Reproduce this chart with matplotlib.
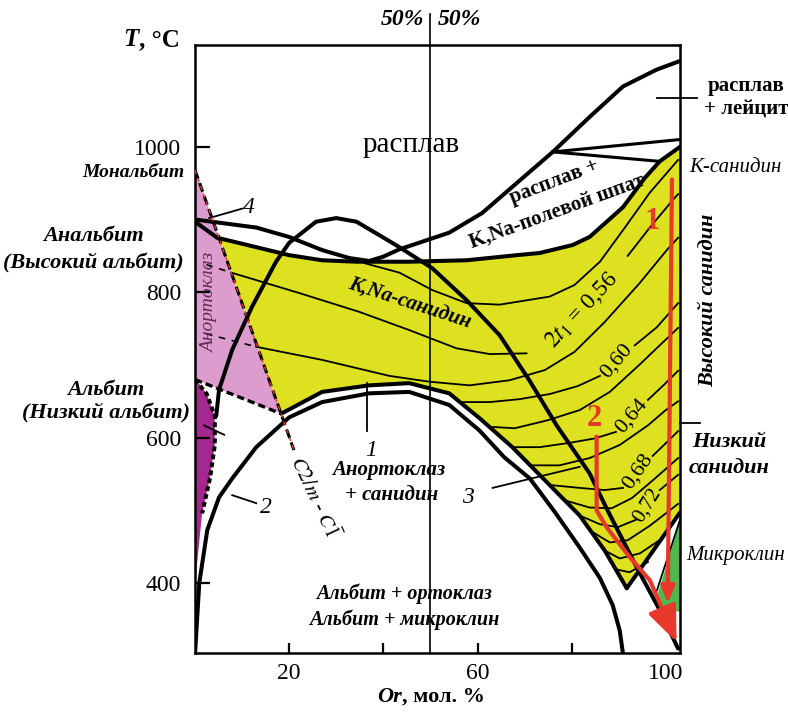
import matplotlib.pyplot as plt
import numpy as np

plt.rcParams['font.family'] = ['Liberation Serif', 'DejaVu Serif']
plt.rcParams['mathtext.fontset'] = 'stix'

# ---- data: (Or, mol.%  ,  T, degC) ----
liquidus = [(0, 900), (13, 889), (20, 876), (27, 858), (32.8, 847), (37, 843), (40, 849), (43.4, 859),
            (54, 882), (61, 909), (68.3, 950), (76, 993), (83.8, 1041), (90.9, 1083),
            (98, 1106), (103, 1118)]
solidus = [(0, 897), (4.7, 875), (13, 862), (20, 851), (27, 844), (34.3, 842), (45.5, 842),
           (57.7, 844), (68.3, 851), (73.2, 854), (80.2, 865), (83.8, 876), (90.9, 917),
           (95.5, 957), (98.7, 980), (103, 1000)]
leucite_upper = [(76, 993), (103, 1010)]
leucite_lower = [(76, 993), (98.7, 980)]

curve3 = [(4.5, 630), (5.1, 666), (7.9, 721), (12.1, 780), (17.2, 842), (20, 868), (25.7, 897),
          (30, 902), (34.3, 897), (39.8, 876), (43.4, 862), (50.4, 833), (57.7, 789),
          (64.7, 741), (71, 679), (76.8, 617), (83.8, 551), (87.4, 503), (93.8, 422),
          (98.7, 363), (102.6, 310)]
albite_dash = [(0, 680), (2.5, 660), (4.2, 630), (4.2, 590), (3.2, 545), (1.5, 496)]
curve1 = [(18.3, 633), (27, 663), (37, 672), (45.5, 675), (54, 661), (60.4, 627), (67.4, 587),
          (75.3, 535), (81.7, 493), (87, 445), (91.7, 393)]
curve2 = [(0, 303), (0.9, 400), (2.6, 473), (5.1, 518), (7.9, 544), (13, 587), (20, 628),
          (27, 649), (37, 661), (45.5, 663), (54, 645), (60.4, 610), (65.7, 573), (71.1, 544),
          (76.4, 498), (81.7, 449), (86, 407), (88.7, 370), (90.2, 335), (90.9, 303)]
c2m_line = [(0, 968), (21, 583)]
anorth_dash = [(0, 680), (18.3, 633)]
v_right = [(91.7, 393), (103, 497)]
micro_line = [(103, 487), (98.1, 390)]
small_tick = [(1.9, 617), (6.2, 604)]

pink_zone = [(0, 968), (0, 680), (18.3, 633)]
purple_zone = [(0, 682), (2.5, 660), (4.2, 630), (4.2, 590), (3.2, 545), (1.5, 496), (0.4, 425), (0, 380)]
green_zone = [(103, 485), (98.3, 386), (99.8, 361), (103, 361)]

# 2t1 isolines; labelled ones are split into the part before and after the label
iso_top = [(36.0, 840), (43.4, 827), (50.4, 803), (57.7, 785), (64.7, 783), (75.3, 794),
           (80.6, 810), (86.0, 842), (91.3, 889), (96.6, 937), (102.6, 982)]
iso_056 = ([(7.7, 827), (22.1, 799), (34.9, 773), (45.5, 748), (55.5, 723), (62.6, 715), (70.4, 716)],
           [(91.9, 850), (96.6, 889), (101.5, 927), (102.6, 935)])
iso_058 = [(13.0, 725), (27.0, 707), (41.3, 685), (49.8, 677), (58.3, 672), (66.8, 679), (74.3, 693),
           (80.6, 718), (87.0, 759), (94.5, 813), (100.2, 858), (102.6, 875)]
iso_060 = ([(56.6, 649), (62.6, 649), (68.9, 653), (75.3, 660), (81.3, 671), (86.0, 685)],
           [(93.4, 727), (98.1, 752), (102.6, 785)])
iso_062 = [(62.6, 615), (67.9, 613), (74.9, 624), (81.7, 638), (88.1, 663), (94.5, 701),
           (98.7, 727), (102.6, 751)]
iso_064 = ([(67.4, 587), (73.2, 587), (79.6, 593), (84.9, 599), (89.4, 608)],
           [(96.2, 652), (99.8, 674), (102.6, 692)])
iso_066 = [(71.1, 562), (77.4, 562), (83.8, 572), (90.2, 590), (96.2, 617), (99.8, 637), (102.6, 650)]
iso_068 = ([(75.3, 535), (81.7, 531), (87.0, 528), (90.9, 531)],
           [(97.2, 575), (100.4, 595), (102.6, 609)])
iso_070 = [(78.5, 514), (83.8, 504), (88.5, 503), (92.8, 517), (97.7, 544), (102.6, 572)]
iso_072 = ([(81.7, 493), (86.0, 481), (89.8, 477), (93.6, 487)],
           [(98.7, 528), (102.6, 549)])
iso_074 = [(84.5, 470), (88.1, 456), (91.9, 459), (96.6, 479), (102.6, 509)]
iso_076 = [(87.0, 445), (90.2, 434), (94.5, 441), (99.1, 461)]
iso_078 = [(89.4, 419), (92.3, 415), (96.2, 429)]
# metastable continuations into the anorthoclase field
iso_056_dash = [(2.4, 838), (7.7, 827)]
iso_058_dash = [(2.3, 743), (13.0, 725)]

arrow1 = [(101.3, 955), (100.4, 372)]
arrow2 = [(85.3, 601), (85.3, 500), (87.4, 477), (92.3, 436), (96.6, 404), (99.1, 367), (102.3, 319)]

y_ticks = [400, 600, 800, 1000]
x_ticks = [20, 40, 60, 80, 100]
x_ticklabels = ['20', '', '60', '', '100']

YELLOW = '#dde11f'
PINK = '#dc9ccd'
PURPLE = '#a5288f'
GREEN = '#4fb84a'
RED = '#e8372b'


def xy(pts):
    a = np.array(pts, dtype=float)
    return a[:, 0], a[:, 1]


fig = plt.figure(figsize=(7.88, 7.12), dpi=100)
ax = fig.add_axes([0.2475, 0.0829, 0.6154, 0.8539])
ax.set_xlim(0, 103)
ax.set_ylim(304, 1140)

# filled fields
yellow = (solidus[1:] + [(103, 497)] + [v_right[0]] + curve1[::-1][1:] + [(4.7, 882)])
ax.fill(*xy(yellow), color=YELLOW, lw=0, zorder=1)
ax.fill(*xy(pink_zone), color=PINK, lw=0, zorder=1)
ax.fill(*xy(purple_zone), color=PURPLE, lw=0, zorder=1)
ax.fill(*xy(green_zone), color=GREEN, lw=0, zorder=1)

thick = dict(color='black', lw=2.9, solid_capstyle='round', zorder=4)
thin = dict(color='black', lw=1.3, zorder=3)
for c in [liquidus, solidus, curve3, curve1, curve2, v_right]:
    ax.plot(*xy(c), **thick)
for c in [leucite_upper, leucite_lower]:
    ax.plot(*xy(c), color='black', lw=2.2, zorder=4)
ax.plot(*xy(albite_dash), color='black', lw=2.9, ls=(0, (1.2, 0.8)), zorder=4)
ax.plot(*xy(anorth_dash), color='black', lw=2.4, ls=(0, (2.2, 1.2)), zorder=4)
ax.plot(*xy(c2m_line), color='black', lw=2.2, ls=(0, (3, 1.5)), zorder=4)
ax.plot(*xy(c2m_line), color=RED, lw=1.0, ls=(0, (3, 3)), zorder=5)
ax.plot(*xy(micro_line), **thin)
ax.plot(*xy(small_tick), **thin)

for c in [iso_top, iso_058, iso_062, iso_066, iso_070, iso_074, iso_076, iso_078]:
    ax.plot(*xy(c), **thin)
for left, right in [iso_056, iso_060, iso_064, iso_068, iso_072]:
    ax.plot(*xy(left), **thin)
    ax.plot(*xy(right), **thin)
for c in [iso_056_dash, iso_058_dash]:
    ax.plot(*xy(c), color='black', lw=1.2, ls=(0, (4, 4)), zorder=3)

# 50 % line
ax.plot([50, 50], [304, 1183], color='black', lw=1.2, clip_on=False, zorder=5)

# red arrows
ax.annotate('', xy=arrow1[1], xytext=arrow1[0],
            arrowprops=dict(arrowstyle='-|>,head_length=1.0,head_width=0.4', color=RED, lw=3,
                            shrinkA=0, shrinkB=0), zorder=6)
ax.plot(*xy(arrow2[:-1]), color=RED, lw=3, zorder=6, solid_joinstyle='round')
ax.annotate('', xy=arrow2[-1], xytext=arrow2[-2],
            arrowprops=dict(arrowstyle='-|>,head_length=2.2,head_width=0.9', color=RED, lw=3,
                            shrinkA=0, shrinkB=0), zorder=6)

# axes styling
for s in ax.spines.values():
    s.set_linewidth(1.8)
ax.set_yticks(y_ticks)
ax.set_xticks(x_ticks)
ax.set_xticklabels(x_ticklabels)
ax.tick_params(axis='y', direction='in', length=11, width=1.6, labelsize=17, pad=10)
ax.tick_params(axis='x', direction='in', length=7, width=1.6, labelsize=17, pad=7)
ax.xaxis.get_major_ticks()[-1].tick1line.set_visible(False)

bi = dict(fontweight='bold', fontstyle='italic')
ax.text(-12, 1147, 'T', ha='right', va='center', fontsize=18, clip_on=False, **bi)
ax.text(-12, 1147, ', °C', ha='left', va='center', fontsize=18, fontweight='bold', clip_on=False)
ax.text(48.7, 1175, '50%', ha='right', va='center', fontsize=17, clip_on=False, **bi)
ax.text(51.5, 1175, '50%', ha='left', va='center', fontsize=17, clip_on=False, **bi)
ax.text(44, 244, 'Or', ha='right', va='center', fontsize=16, clip_on=False, **bi)
ax.text(44, 244, ', мол. %', ha='left', va='center', fontsize=16, fontweight='bold', clip_on=False)

ax.text(-2.3, 965, 'Мональбит', ha='right', va='center', fontsize=14, clip_on=False, **bi)
ax.text(-21.5, 877, 'Анальбит', ha='center', va='center', fontsize=16, clip_on=False, **bi)
ax.text(-21.5, 840, '(Высокий альбит)', ha='center', va='center', fontsize=16, clip_on=False, **bi)
ax.text(-19, 666, 'Альбит', ha='center', va='center', fontsize=16, clip_on=False, **bi)
ax.text(-19, 634, '(Низкий альбит)', ha='center', va='center', fontsize=16, clip_on=False, **bi)

ax.text(11.5, 917, '4', ha='center', va='center', fontsize=17, fontstyle='italic')
ax.plot([3, 10], [902, 915], color='black', lw=1.3)
ax.text(3.0, 785, 'Анортоклаз', rotation=90, ha='center', va='center', fontsize=14,
        fontstyle='italic', color='#5e2e55')

ax.text(46.0, 1003, 'расплав', ha='center', va='center', fontsize=21)
ax.text(76.3, 952, 'расплав +', ha='center', va='center', fontsize=15, fontweight='bold', rotation=21)
ax.text(77.0, 911, 'K,Na-полевой шпат', ha='center', va='center', fontsize=15, fontweight='bold',
        rotation=20)
ax.text(117, 1083, 'расплав', ha='center', va='center', fontsize=15, fontweight='bold', clip_on=False)
ax.text(117, 1051, '+ лейцит', ha='center', va='center', fontsize=15, fontweight='bold', clip_on=False)
ax.plot([98.1, 106.6], [1067, 1067], color='black', lw=1.3, clip_on=False)
ax.text(114.7, 972, 'K-санидин', ha='center', va='center', fontsize=15, fontstyle='italic', clip_on=False)
ax.text(108.9, 789, 'Высокий санидин', rotation=90, ha='center', va='center', fontsize=16,
        clip_on=False, **bi)
ax.text(113.4, 594, 'Низкий', ha='center', va='center', fontsize=16, clip_on=False, **bi)
ax.text(113.4, 558, 'санидин', ha='center', va='center', fontsize=16, clip_on=False, **bi)
ax.plot([103, 107.2], [620, 620], color='black', lw=1.3, clip_on=False)
ax.text(114.9, 438, 'Микроклин', ha='center', va='center', fontsize=15, fontstyle='italic', clip_on=False)

ax.text(45.5, 784, 'K,Na-санидин', rotation=-18, ha='center', va='center', fontsize=15, **bi)
ax.text(82.1, 776, r'$2t_1$ = 0,56', rotation=47, ha='center', va='center', fontsize=17)
ax.text(89.6, 705, '0,60', rotation=50, ha='center', va='center', fontsize=16)
ax.text(92.8, 630, '0,64', rotation=50, ha='center', va='center', fontsize=16)
ax.text(94.0, 553, '0,68', rotation=55, ha='center', va='center', fontsize=16)
ax.text(96.1, 507, '0,72', rotation=58, ha='center', va='center', fontsize=15)

ax.plot([36.6, 36.6], [675, 609], color='black', lw=1.3)
ax.text(37.4, 583, '1', ha='center', va='center', fontsize=17, fontstyle='italic')
ax.text(41.2, 555, 'Анортоклаз', ha='center', va='center', fontsize=15, **bi)
ax.text(41.7, 521, '+ санидин', ha='center', va='center', fontsize=15, **bi)
ax.text(15.1, 504, '2', ha='center', va='center', fontsize=17, fontstyle='italic')
ax.plot([7.9, 13], [521, 510], color='black', lw=1.3)
ax.text(57.9, 518, '3', ha='center', va='center', fontsize=17, fontstyle='italic')
ax.plot([63.2, 81.7], [531, 560], color='black', lw=1.3)
ax.text(25.3, 518, r'$C2/m$ - $C\bar{1}$', rotation=-65, ha='center', va='center', fontsize=15)
ax.text(44.4, 386, 'Альбит + ортоклаз', ha='center', va='center', fontsize=14.5, **bi)
ax.text(44.4, 349, 'Альбит + микроклин', ha='center', va='center', fontsize=14.5, **bi)

ax.text(97.2, 897, '1', ha='center', va='center', fontsize=22, fontweight='bold', color=RED)
ax.text(84.9, 627, '2', ha='center', va='center', fontsize=22, fontweight='bold', color=RED)

fig.savefig('out.png', dpi=100)
